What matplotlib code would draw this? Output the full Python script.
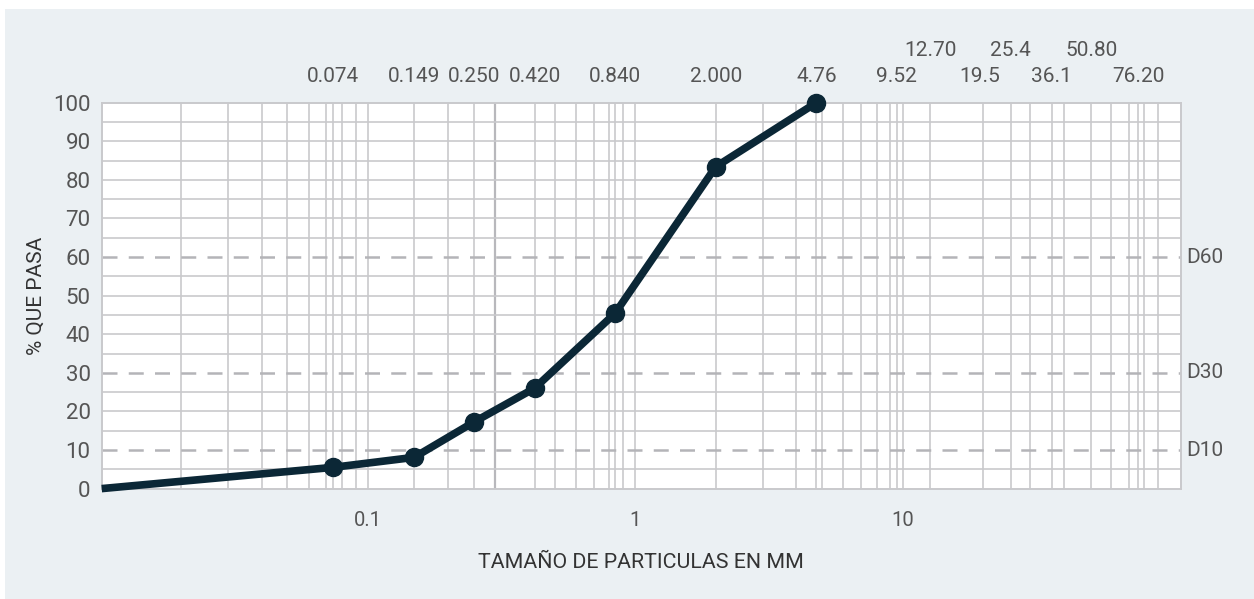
import matplotlib
matplotlib.use("Agg")
import matplotlib.pyplot as plt
from matplotlib.patches import Rectangle

# ---- data ----
sizes_mm = [0.0101, 0.074, 0.149, 0.250, 0.420, 0.840, 2.000, 4.76]
pct_pass = [0.0, 5.5, 8.1, 17.3, 26.0, 45.4, 83.4, 100.0]

top_row1 = ["0.074", "0.149", "0.250", "0.420", "0.840", "2.000", "4.76",
            "9.52", "19.5", "36.1", "76.20"]
top_row2 = ["12.70", "25.4", "50.80"]

grid_x = [0.02, 0.03, 0.04, 0.05, 0.06, 0.07, 0.074, 0.08, 0.09, 0.1,
          0.149, 0.2, 0.25, 0.3, 0.42, 0.5, 0.6, 0.7, 0.8, 0.84, 0.9, 1,
          2, 3, 4, 4.76, 5, 6, 7, 8, 9, 9.52, 10,
          12.7, 20, 25.4, 30, 36.1, 40, 50.8, 60, 70, 76.2, 80, 90]
d_levels = [10, 30, 60]
d_labels = ["D10", "D30", "D60"]
x_ticks = [0.1, 1, 10]
x_tick_labels = ["0.1", "1", "10"]
y_ticks = list(range(0, 101, 10))

# ---- style ----
plt.rcParams['font.family'] = ['Roboto', 'DejaVu Sans']
BG = "#ebf0f3"
GRID = "#c9c9cc"
DASH = "#b4b4b8"
LINE = "#0b2736"
TXT = "#555555"

fig = plt.figure(figsize=(12.54, 5.99), dpi=100)
fig.patch.set_facecolor("white")
fig.patches.append(Rectangle((5 / 1254, 0), 1 - 5 / 1254, 1 - 9 / 599,
                             transform=fig.transFigure, facecolor=BG,
                             edgecolor="none", zorder=-10))

ax = fig.add_axes([101.7 / 1254, 1 - 488.6 / 599,
                   (1181 - 101.7) / 1254, (488.6 - 102.7) / 599])
ax.set_facecolor("white")
ax.set_xscale("log")
ax.set_xlim(0.0101, 110)
ax.set_ylim(0, 100)

# grid
for gx in grid_x:
    lw = 1.6 if gx == 0.3 else 1.2
    col = "#b8b8bc" if gx == 0.3 else GRID
    ax.axvline(gx, color=col, lw=lw, zorder=1)
for gy in range(5, 100, 5):
    if gy in d_levels:
        continue
    ax.axhline(gy, color=GRID, lw=1.2, zorder=1)
for lvl, lab in zip(d_levels, d_labels):
    ax.axhline(lvl, color=DASH, lw=1.8, ls=(0, (6, 4.5)), zorder=2)
    ax.annotate(lab, xy=(1, lvl), xycoords=("axes fraction", "data"),
                xytext=(3.5, 0), textcoords="offset points", va="center",
                ha="left", fontsize=15, color=TXT)

for s in ax.spines.values():
    s.set_color(GRID)
    s.set_linewidth(1.4)

# data line
ax.plot(sizes_mm, pct_pass, color=LINE, lw=5.5, zorder=5,
        solid_capstyle="butt", clip_on=False)
ax.plot(sizes_mm[1:], pct_pass[1:], "o", color=LINE, ms=13, zorder=6,
        clip_on=False)

# ticks
ax.set_xticks(x_ticks)
ax.set_xticklabels(x_tick_labels)
ax.xaxis.set_minor_locator(matplotlib.ticker.NullLocator())
ax.set_yticks(y_ticks)
ax.tick_params(axis="both", length=0, colors=TXT)
ax.tick_params(axis="x", labelsize=14.5, pad=16)
ax.tick_params(axis="y", labelsize=16, pad=8)

# top labels
for lab in top_row1:
    ax.annotate(lab, xy=(float(lab), 1), xycoords=("data", "axes fraction"),
                xytext=(0, 19), textcoords="offset points", ha="center",
                va="center", fontsize=15, color=TXT)
for lab in top_row2:
    ax.annotate(lab, xy=(float(lab), 1), xycoords=("data", "axes fraction"),
                xytext=(0, 37.5), textcoords="offset points", ha="center",
                va="center", fontsize=15, color=TXT)

ax.set_xlabel("TAMAÑO DE PARTICULAS EN MM", fontsize=15.4, color="#333333",
              labelpad=17)
ax.set_ylabel("% QUE PASA", fontsize=15, color="#333333", labelpad=5)

fig.savefig("out.png", dpi=100, facecolor=fig.get_facecolor())
